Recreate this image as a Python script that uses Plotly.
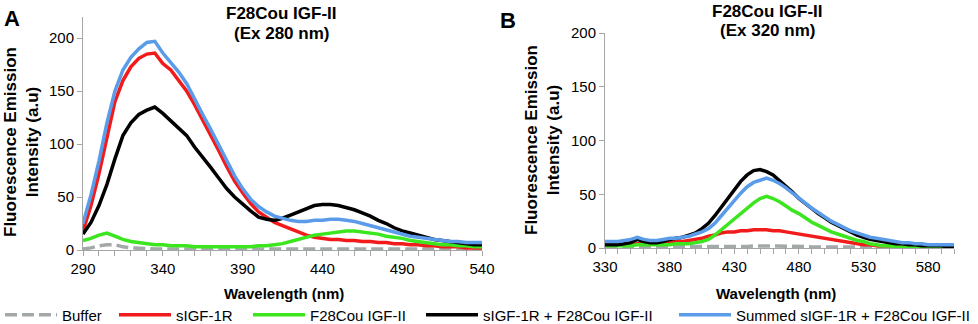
import plotly.graph_objects as go

W, H = 978, 324

# panel A (excitation 280 nm)
wl_a = list(range(290, 545, 5))
buffer_a = [1, 2, 4, 5, 5, 3, 2, 1.5, 1, 1, 1, 1, 1, 0.8, 0.8, 0.8, 0.8, 0.8, 0.8, 0.8, 0.8, 0.8, 0.8, 0.8, 0.8,
            0.8, 0.8, 0.8, 0.8, 0.8, 1, 1, 1, 1, 1, 1, 0.8, 0.8, 0.8, 0.8, 0.8, 0.8, 0.8, 0.8, 0.8, 0.8, 0.8, 0.8,
            0.8, 0.8, 0.8]
sigf_a = [18, 42, 72, 108, 140, 160, 173, 181, 185, 186, 176, 170, 160, 150, 137, 123, 109, 94, 79, 65, 54, 44,
          36, 31, 26, 23, 20, 17, 14, 12, 11, 10, 10, 9, 9, 8, 8, 7, 7, 6, 6, 5, 5, 4, 4, 3, 3, 3, 2, 2, 2]
f28_a = [9, 11, 14, 16, 13, 10, 8, 7, 6, 5, 5, 4, 4, 4, 3, 3, 3, 3, 3, 3, 3, 3, 4, 4, 5, 6, 8, 10, 12, 14, 15,
         16, 17, 18, 18, 17, 16, 15, 13, 12, 11, 9, 8, 7, 6, 5, 5, 4, 4, 3, 3]
mix_a = [15, 26, 42, 62, 86, 108, 120, 128, 132, 135, 129, 122, 116, 108, 97, 88, 78, 68, 58, 50, 43, 37, 31,
         29, 28, 30, 33, 36, 39, 42, 43, 43, 42, 40, 38, 35, 32, 28, 25, 21, 18, 16, 14, 12, 10, 9, 8, 7, 6, 5, 5]
sum_a = [25, 52, 84, 120, 150, 170, 182, 190, 196, 197, 186, 177, 168, 157, 142, 128, 114, 99, 84, 70, 58, 48,
         41, 36, 32, 30, 28, 27, 27, 28, 28, 29, 29, 28, 27, 25, 23, 21, 19, 17, 15, 13, 12, 11, 10, 9, 8, 8, 7,
         7, 7]

# panel B (excitation 320 nm)
wl_b = list(range(330, 605, 5))
buffer_b = [1, 1, 1, 1, 1, 1, 1, 1, 1, 1, 1, 1, 1, 1, 1, 1, 1, 1, 1, 1, 1.5, 1.5, 1.5, 2, 2, 2, 2, 1.5, 1.5,
            1.5, 1.5, 1.5, 1, 1, 1, 1, 1, 1, 1, 1, 1, 1, 1, 1, 1, 1, 1, 1, 1, 1, 1, 1, 1, 1, 1]
sigf_b = [3, 3, 3, 3, 3, 4, 4, 4, 4, 5, 5, 6, 6, 7, 8, 9, 11, 12, 14, 15, 15, 16, 16, 17, 17, 17, 16, 16, 15,
          14, 13, 12, 11, 10, 9, 8, 7, 6, 5, 4, 3, 3, 2, 2, 2, 1, 1, 1, 1, 1, 1, 1, 1, 1, 1]
f28_b = [2, 2, 2, 2, 2, 3, 3, 3, 3, 3, 3, 4, 4, 4, 5, 6, 8, 12, 17, 22, 28, 33, 38, 42, 46, 48, 46, 43, 39, 35,
         32, 28, 24, 21, 18, 15, 13, 11, 9, 7, 6, 4, 3, 2, 2, 1, 1, 1, 1, 1, 1, 1, 1, 1, 1]
mix_b = [3, 3, 3, 4, 5, 8, 6, 5, 5, 6, 8, 9, 10, 12, 14, 18, 23, 30, 38, 46, 55, 62, 68, 72, 73, 71, 68, 63, 58,
         52, 46, 41, 36, 32, 28, 24, 21, 18, 15, 12, 10, 8, 7, 6, 5, 4, 4, 3, 3, 2, 2, 2, 2, 1, 1]
sum_b = [6, 6, 6, 7, 8, 10, 8, 7, 7, 8, 9, 9, 10, 11, 13, 15, 18, 23, 30, 37, 45, 51, 57, 61, 63, 65, 63, 60, 56,
         51, 46, 41, 37, 33, 29, 25, 22, 19, 16, 14, 12, 10, 9, 8, 7, 6, 5, 5, 4, 4, 3, 3, 3, 3, 3]

names = ["Buffer", "sIGF-1R", "F28Cou IGF-II", "sIGF-1R + F28Cou IGF-II", "Summed sIGF-1R + F28Cou IGF-II"]
colors = ["#a3a8a8", "#f21b1b", "#3ce61e", "#000000", "#5a9bea"]
dashes = ["12px,5px", "solid", "solid", "solid", "solid"]
legend_x = [0, 114, 248, 421, 674]   # px, left edge of each legend entry

series_a = [buffer_a, sigf_a, f28_a, mix_a, sum_a]
series_b = [buffer_b, sigf_b, f28_b, mix_b, sum_b]


def px(x):
    return x / W


def py(y):
    return 1 - y / H


fig = go.Figure()
legend_ids = ["legend", "legend2", "legend3", "legend4", "legend5"]
for i in range(5):
    fig.add_trace(go.Scatter(x=wl_a, y=series_a[i], name=names[i], mode="lines",
                             line=dict(color=colors[i], width=3.5, dash=dashes[i]),
                             legend=legend_ids[i], xaxis="x", yaxis="y"))
for i in range(5):
    fig.add_trace(go.Scatter(x=wl_b, y=series_b[i], name=names[i], mode="lines", showlegend=False,
                             line=dict(color=colors[i], width=3.5, dash=dashes[i]),
                             xaxis="x2", yaxis="y2"))

axis_grey = "#a6a6a6"
tickfont = dict(family="Liberation Sans, Arial", size=15, color="#000")
xcommon = dict(showline=True, linecolor=axis_grey, linewidth=1, ticks="outside", ticklen=5,
               tickcolor=axis_grey, dtick=50, showgrid=False, zeroline=False, tickfont=tickfont,
               minor=dict(dtick=10, ticks="outside", ticklen=5, tickcolor=axis_grey, showgrid=False))
ycommon = dict(showline=True, linecolor=axis_grey, linewidth=1, ticks="outside", ticklen=5,
               tickcolor=axis_grey, dtick=50, showgrid=False, zeroline=False, tickfont=tickfont)

legend_common = dict(orientation="h", yanchor="middle", xanchor="left", y=py(315),
                     font=dict(family="Liberation Sans, Arial", size=15, color="#000"),
                     itemwidth=52, bgcolor="rgba(0,0,0,0)", borderwidth=0)

layout_legends = {}
for i, lid in enumerate(legend_ids):
    layout_legends[lid] = dict(legend_common, x=px(legend_x[i]))

fig.update_layout(
    width=W, height=H,
    margin=dict(l=0, r=0, t=0, b=0, autoexpand=False),
    paper_bgcolor="white", plot_bgcolor="white",
    xaxis=dict(xcommon, domain=[px(83), px(482)], range=[290, 540], tick0=290, anchor="y", automargin=False),
    yaxis=dict(ycommon, domain=[py(250), py(17)], range=[0, 220], anchor="x", automargin=False),
    xaxis2=dict(xcommon, domain=[px(605), px(954)], range=[330, 600], tick0=330, anchor="y2", automargin=False),
    yaxis2=dict(ycommon, domain=[py(248), py(33)], range=[0, 200], anchor="x2", automargin=False),
    **layout_legends,
)

bold = dict(family="Liberation Sans, Arial", color="#000")
annots = [
    dict(text="<b>A</b>", x=12, y=18, size=22),
    dict(text="<b>B</b>", x=508, y=20, size=22),
    dict(text="<b>F28Cou IGF-II</b>", x=281, y=14, size=17),
    dict(text="<b>(Ex 280 nm)</b>", x=281, y=33, size=17),
    dict(text="<b>F28Cou IGF-II</b>", x=767, y=11, size=17),
    dict(text="<b>(Ex 320 nm)</b>", x=767, y=31, size=17),
    dict(text="<b>Wavelength (nm)</b>", x=284, y=293, size=15),
    dict(text="<b>Wavelength (nm)</b>", x=776, y=293, size=15),
]
for a in annots:
    fig.add_annotation(text=a["text"], x=px(a["x"]), y=py(a["y"]), xref="paper", yref="paper",
                       xanchor="center", yanchor="middle", showarrow=False,
                       font=dict(bold, size=a["size"]))
for xc, yc in [(22, 142), (543, 140)]:
    fig.add_annotation(text="<b>Fluorescence Emission</b><br><b>Intensity (a.u)</b>", x=px(xc), y=py(yc),
                       xref="paper", yref="paper", xanchor="center", yanchor="middle", showarrow=False,
                       textangle=-90, font=dict(bold, size=17))

# drop the browser's default 8px body margin so the figure sits at the page corner
fig.write_html("out.html", config={"displayModeBar": False},
               post_script="document.body.style.margin='0';")
